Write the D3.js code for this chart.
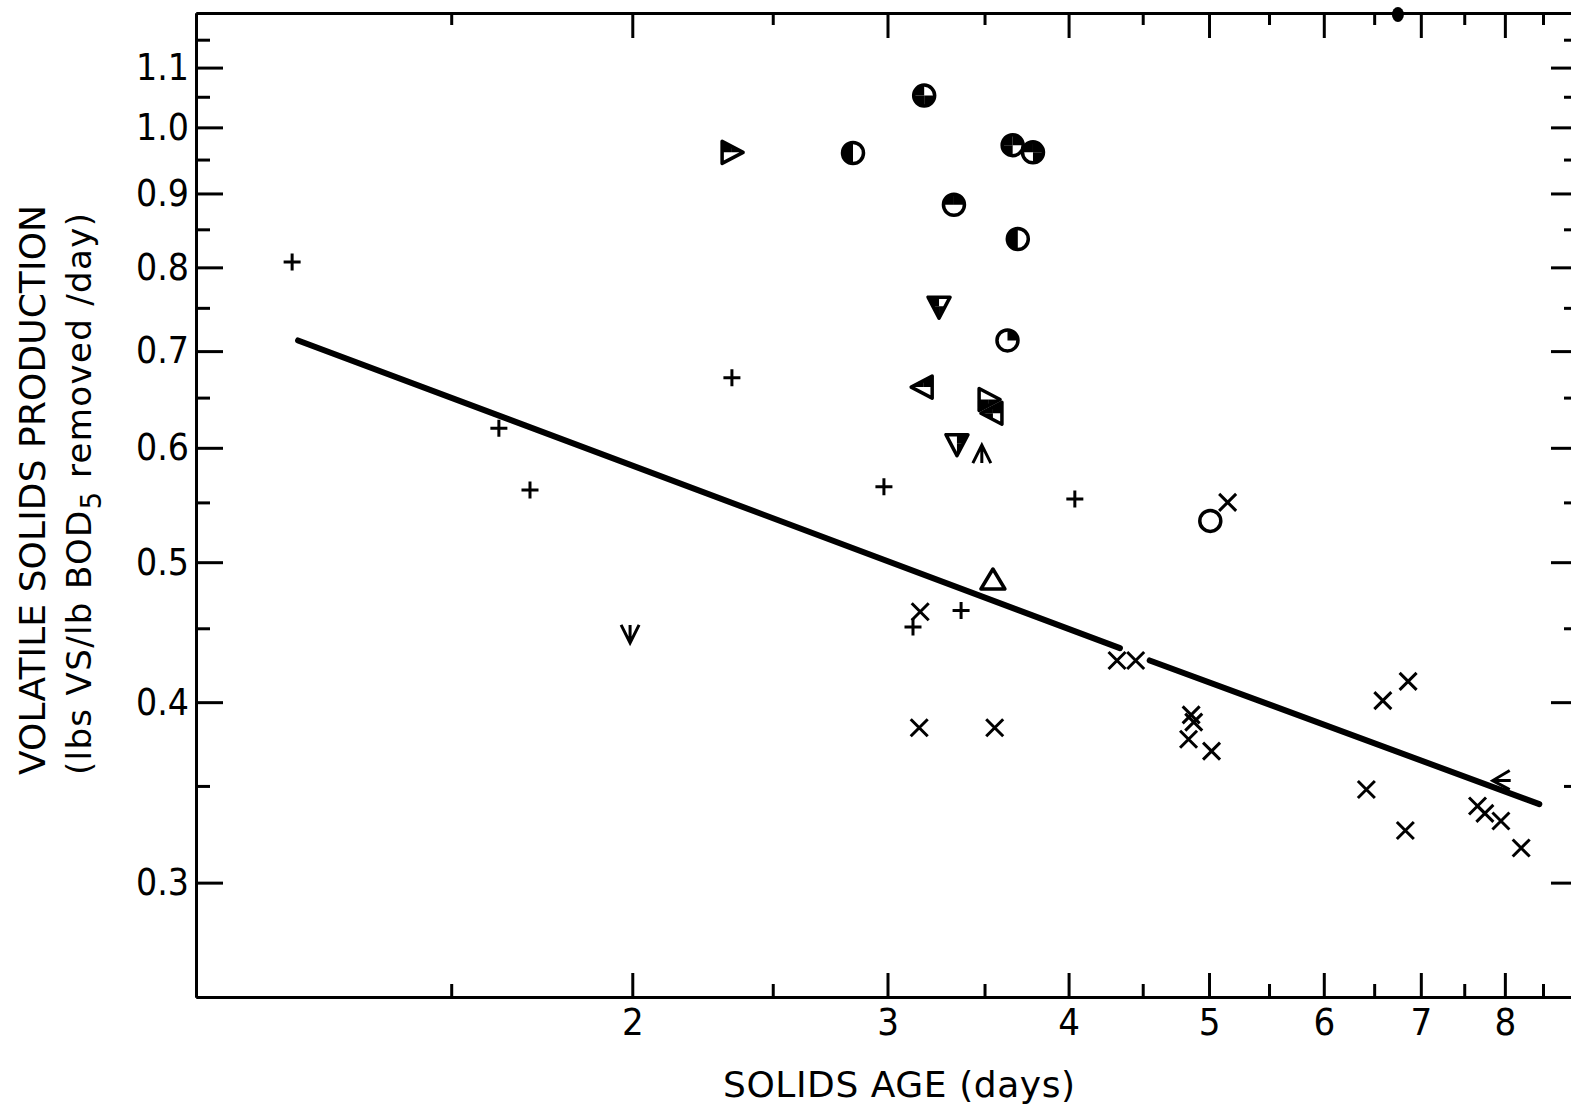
<!DOCTYPE html>
<html>
<head>
<meta charset="utf-8">
<script src="https://cdn.jsdelivr.net/npm/d3@7"></script>
<style>
  body { margin: 0; background: #fff; }
  svg { display: block; background: #fff; font-family: "DejaVu Sans", sans-serif; }
  .num { font-family: "DejaVu Sans Condensed", "DejaVu Sans", sans-serif; font-stretch: condensed; }
</style>
</head>
<body>
<div id="chart"></div>
<script>
// Volatile solids production vs solids age, log-log plot

const xMajor = [2, 3, 4, 5, 6, 7, 8];
const xMinor = [1.5, 2.5, 3.5, 4.5, 5.5, 6.5, 7.5, 8.5];
const yMajor = [0.3, 0.4, 0.5, 0.6, 0.7, 0.8, 0.9, 1.0, 1.1];
const yMinor = [0.35, 0.45, 0.55, 0.65, 0.75, 0.85, 0.95, 1.05, 1.15];

// [solids age, VS production]
const plusPoints = [
  [1.165, 0.807], [1.618, 0.619], [1.70, 0.561], [2.343, 0.671],
  [2.983, 0.564], [4.04, 0.553], [3.372, 0.463], [3.124, 0.451]
];

const crossPoints = [
  [3.16, 0.462], [3.155, 0.384], [3.557, 0.384], [5.15, 0.550],
  [4.32, 0.4275], [4.45, 0.4275], [4.86, 0.392], [4.88, 0.3875],
  [4.84, 0.377], [5.02, 0.370], [6.59, 0.401], [6.86, 0.4135],
  [6.42, 0.348], [6.83, 0.326], [7.66, 0.339], [7.75, 0.335],
  [7.95, 0.331], [8.21, 0.317]
];

// quadrants that are blacked in: tl, tr, bl, br
const circlePoints = [
  { x: 3.18, y: 1.052, fill: ['tl', 'bl', 'br'] },
  { x: 2.84, y: 0.960, fill: ['tl', 'bl'] },
  { x: 3.66, y: 0.972, fill: ['tl', 'tr', 'bl'] },
  { x: 3.78, y: 0.961, fill: ['tl', 'tr', 'br'] },
  { x: 3.334, y: 0.884, fill: ['tl', 'tr'] },
  { x: 3.69, y: 0.837, fill: ['tl', 'bl'] },
  { x: 3.63, y: 0.712, fill: ['tr'] },
  { x: 5.01, y: 0.534, fill: [] }
];

const trianglePoints = [
  { x: 2.34, y: 0.961, dir: 'right', fill: ['tl', 'tr'] },
  { x: 3.256, y: 0.752, dir: 'down', fill: ['tl', 'bl', 'br'] },
  { x: 3.175, y: 0.661, dir: 'left', fill: ['tl', 'tr'] },
  { x: 3.52, y: 0.648, dir: 'right', fill: ['bl', 'br'] },
  { x: 3.547, y: 0.634, dir: 'left', fill: ['tl', 'tr', 'bl'] },
  { x: 3.35, y: 0.604, dir: 'down', fill: ['tr', 'br'] },
  { x: 3.547, y: 0.486, dir: 'up', fill: [] }
];

const arrowPoints = [
  { x: 1.993, y: 0.446, dir: 'down' },
  { x: 3.485, y: 0.594, dir: 'up' },
  { x: 7.96, y: 0.353, dir: 'left' }
];

// marker cut off by the top frame
const offTopPoints = [[6.75, 1.197]];

// fitted line, drawn with a break where it passes the crosses
const fitSegments = [
  [[1.176, 0.712], [4.34, 0.436]],
  [[4.55, 0.4275], [8.45, 0.340]]
];

const width = 1571;
const height = 1111;

const svg = d3.select('#chart')
  .append('svg')
  .attr('width', width)
  .attr('height', height);

const x = d3.scaleLog().domain([1, 9]).range([196, 1579]);
const y = d3.scaleLog().domain([0.25, 1.2]).range([997, 13]);

const defs = svg.append('defs');
const quads = { tl: [-20, -20], tr: [0, -20], bl: [-20, 0], br: [0, 0] };
Object.entries(quads).forEach(([k, v]) => {
  defs.append('clipPath')
    .attr('id', 'q-' + k)
    .append('rect')
    .attr('x', v[0]).attr('y', v[1])
    .attr('width', 20).attr('height', 20);
});

function styleAxis(g) {
  g.attr('font-family', null).attr('font-size', null);
  g.select('.domain').attr('stroke', '#000').attr('stroke-width', 3);
  g.selectAll('.tick line').attr('stroke', '#000').attr('stroke-width', 3);
  g.selectAll('.tick text').attr('fill', '#000').attr('class', 'num');
}

// left axis
svg.append('g')
  .attr('transform', `translate(${x(1)},0)`)
  .call(d3.axisLeft(y).tickValues(yMajor).tickFormat(d3.format('.1f'))
    .tickSizeInner(-27).tickSizeOuter(0).tickPadding(7))
  .call(styleAxis)
  .selectAll('.tick text')
  .style('font-size', '37px');

svg.append('g')
  .attr('transform', `translate(${x(1)},0)`)
  .call(d3.axisLeft(y).tickValues(yMinor).tickFormat('')
    .tickSizeInner(-14).tickSizeOuter(0))
  .call(styleAxis);

// right axis (frame sits just past the picture edge)
svg.append('g')
  .attr('transform', `translate(${x(9)},0)`)
  .call(d3.axisRight(y).tickValues(yMajor).tickFormat('')
    .tickSizeInner(-28).tickSizeOuter(0))
  .call(styleAxis);

svg.append('g')
  .attr('transform', `translate(${x(9)},0)`)
  .call(d3.axisRight(y).tickValues(yMinor).tickFormat('')
    .tickSizeInner(-15).tickSizeOuter(0))
  .call(styleAxis);

// bottom axis
svg.append('g')
  .attr('transform', `translate(0,${y(0.25)})`)
  .call(d3.axisBottom(x).tickValues(xMajor).tickFormat(d3.format('d'))
    .tickSizeInner(-24).tickSizeOuter(0).tickPadding(11))
  .call(styleAxis)
  .selectAll('.tick text')
  .style('font-size', '38px');

svg.append('g')
  .attr('transform', `translate(0,${y(0.25)})`)
  .call(d3.axisBottom(x).tickValues(xMinor).tickFormat('')
    .tickSizeInner(-13).tickSizeOuter(0))
  .call(styleAxis);

// top axis
svg.append('g')
  .attr('transform', `translate(0,${y(1.2)})`)
  .call(d3.axisTop(x).tickValues(xMajor).tickFormat('')
    .tickSizeInner(-25).tickSizeOuter(0))
  .call(styleAxis);

svg.append('g')
  .attr('transform', `translate(0,${y(1.2)})`)
  .call(d3.axisTop(x).tickValues(xMinor).tickFormat('')
    .tickSizeInner(-12).tickSizeOuter(0))
  .call(styleAxis);

// axis titles
svg.append('text')
  .attr('x', 899)
  .attr('y', 1097)
  .attr('text-anchor', 'middle')
  .attr('textLength', 352)
  .style('font-size', '36px')
  .text('SOLIDS AGE (days)');

svg.append('text')
  .attr('transform', 'translate(45,490) rotate(-90)')
  .attr('text-anchor', 'middle')
  .attr('textLength', 570)
  .style('font-size', '36px')
  .text('VOLATILE SOLIDS PRODUCTION');

const sub = svg.append('text')
  .attr('transform', 'translate(91,494) rotate(-90)')
  .attr('text-anchor', 'middle')
  .attr('textLength', 562)
  .style('font-size', '34px');
sub.append('tspan').text('(lbs VS/lb BOD');
sub.append('tspan').attr('dy', 10).style('font-size', '28px').text('5');
sub.append('tspan').attr('dy', -10).text(' removed /day)');

// fitted line
const line = d3.line().x(d => x(d[0])).y(d => y(d[1]));
fitSegments.forEach(seg => {
  svg.append('path')
    .datum(seg)
    .attr('fill', 'none')
    .attr('stroke', '#000')
    .attr('stroke-width', 6)
    .attr('stroke-linecap', 'round')
    .attr('d', line);
});

const marks = svg.append('g');

// plus signs
marks.selectAll('.plus')
  .data(plusPoints)
  .enter()
  .append('path')
  .attr('transform', d => `translate(${x(d[0])},${y(d[1])})`)
  .attr('d', 'M-8.5,0H8.5M0,-8.5V8.5')
  .attr('stroke', '#000')
  .attr('stroke-width', 3)
  .attr('fill', 'none');

// crosses
marks.selectAll('.cross')
  .data(crossPoints)
  .enter()
  .append('path')
  .attr('transform', d => `translate(${x(d[0])},${y(d[1])})`)
  .attr('d', 'M-8.5,-8.5L8.5,8.5M-8.5,8.5L8.5,-8.5')
  .attr('stroke', '#000')
  .attr('stroke-width', 3)
  .attr('fill', 'none');

// circles, partly blacked in
const circleG = marks.selectAll('.circ')
  .data(circlePoints)
  .enter()
  .append('g')
  .attr('transform', d => `translate(${x(d.x)},${y(d.y)})`);

circleG.each(function(d) {
  const g = d3.select(this);
  d.fill.forEach(q => {
    g.append('circle').attr('r', 11).attr('fill', '#000')
      .attr('clip-path', `url(#q-${q})`);
  });
  g.append('circle').attr('r', 10.5)
    .attr('fill', 'none').attr('stroke', '#000').attr('stroke-width', 3.5);
});

// triangles
const triShapes = {
  right: 'M-9,-11L12,0L-9,11Z',
  left: 'M9,-11L-12,0L9,11Z',
  down: 'M-11,-9L11,-9L0,12Z',
  up: 'M0,-11L12,9L-12,9Z'
};

const triG = marks.selectAll('.tri')
  .data(trianglePoints)
  .enter()
  .append('g')
  .attr('transform', d => `translate(${x(d.x)},${y(d.y)})`);

triG.each(function(d) {
  const g = d3.select(this);
  d.fill.forEach(q => {
    g.append('path').attr('d', triShapes[d.dir]).attr('fill', '#000')
      .attr('clip-path', `url(#q-${q})`);
  });
  g.append('path').attr('d', triShapes[d.dir])
    .attr('fill', 'none').attr('stroke', '#000')
    .attr('stroke-width', 3.5).attr('stroke-linejoin', 'round');
});

// arrows
const arrowShapes = {
  down: 'M-9,-9L0,9L9,-9M0,9V-9',
  up: 'M-9,9L0,-9L9,9M0,-9V9',
  left: 'M8,-10L-9,0L8,9M-9,0H9'
};

marks.selectAll('.arrow')
  .data(arrowPoints)
  .enter()
  .append('path')
  .attr('transform', d => `translate(${x(d.x)},${y(d.y)})`)
  .attr('d', d => arrowShapes[d.dir])
  .attr('stroke', '#000')
  .attr('stroke-width', 3)
  .attr('fill', 'none');

marks.selectAll('.offtop')
  .data(offTopPoints)
  .enter()
  .append('ellipse')
  .attr('cx', d => x(d[0]))
  .attr('cy', d => y(d[1]))
  .attr('rx', 6)
  .attr('ry', 7.5)
  .attr('fill', '#000');
</script>
</body>
</html>
